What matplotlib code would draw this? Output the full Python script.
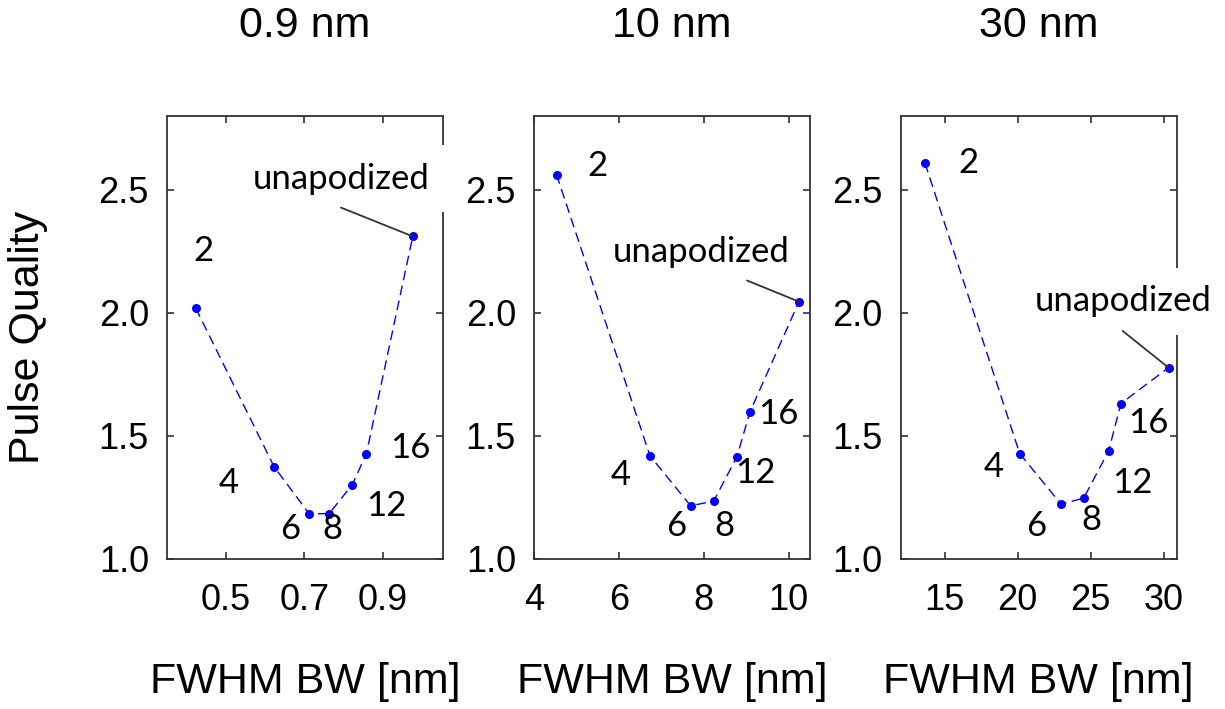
import matplotlib
matplotlib.use("Agg")
import matplotlib.pyplot as plt

# ---------------- data ----------------
panel_titles = ["0.9 nm", "10 nm", "30 nm"]
apod_labels = ["2", "4", "6", "8", "12", "16", "unapodized"]

bw_09 = [0.423, 0.623, 0.712, 0.763, 0.822, 0.858, 0.976]
pq_09 = [2.019, 1.374, 1.184, 1.184, 1.302, 1.428, 2.310]

bw_10 = [4.53, 6.73, 7.69, 8.23, 8.78, 9.08, 10.24]
pq_10 = [2.561, 1.419, 1.216, 1.235, 1.415, 1.595, 2.045]

bw_30 = [13.66, 20.15, 22.98, 24.53, 26.24, 27.08, 30.34]
pq_30 = [2.608, 1.428, 1.223, 1.247, 1.439, 1.631, 1.777]

xticks_09 = [0.5, 0.7, 0.9]
xticks_10 = [4, 6, 8, 10]
xticks_30 = [15, 20, 25, 30]
yticks = [1.0, 1.5, 2.0, 2.5]

xlims = [(0.35, 1.053), (4.0, 10.5), (12.0, 30.9)]
ylim = (1.0, 2.8)

# label positions (data coords) for the apodization labels
lab_pos_09 = [(0.442, 2.25), (0.506, 1.31), (0.663, 1.12), (0.772, 1.12),
              (0.908, 1.214), (0.97, 1.45), (0.793, 2.545)]
lab_pos_10 = [(5.50, 2.595), (6.04, 1.342), (7.36, 1.135), (8.49, 1.135),
              (9.21, 1.351), (9.76, 1.588), (7.93, 2.246)]
lab_pos_30 = [(16.62, 2.608), (18.37, 1.372), (21.29, 1.135), (25.03, 1.159),
              (27.83, 1.308), (28.97, 1.554), (27.26, 2.047)]
# start points of the leader lines to the unapodized point
leader_start = [(0.793, 2.427), (9.016, 2.131), (27.2, 1.926)]

# ---------------- figure ----------------
fig = plt.figure(figsize=(12.25, 7.09), dpi=100)
W, H = 1225.0, 709.0
ax_left_px = [167, 534, 900.7]
ax_w_px = 276
ax_top_px, ax_bot_px = 115.7, 559.0

tick_font = "Liberation Sans"
lab_font = "Lato"

panels = [
    (bw_09, pq_09, xticks_09, ["0.5", "0.7", "0.9"], lab_pos_09),
    (bw_10, pq_10, xticks_10, ["4", "6", "8", "10"], lab_pos_10),
    (bw_30, pq_30, xticks_30, ["15", "20", "25", "30"], lab_pos_30),
]

spine_col = "#333333"
for i, (xs, ys, xt, xtl, lpos) in enumerate(panels):
    ax = fig.add_axes([ax_left_px[i] / W, (H - ax_bot_px) / H,
                       ax_w_px / W, (ax_bot_px - ax_top_px) / H])
    ax.plot(xs, ys, color="#0000FF", lw=1.0, dashes=(7, 4),
            marker="o", markersize=6.5, markeredgewidth=0, zorder=4)
    ax.set_xlim(*xlims[i])
    ax.set_ylim(*ylim)
    ax.set_xticks(xt)
    ax.set_xticklabels(xtl, fontfamily=tick_font, fontsize=26)
    ax.set_yticks(yticks)
    ax.set_yticklabels([f"{v:.1f}" for v in yticks],
                       fontfamily=tick_font, fontsize=26)
    ax.tick_params(direction="in", length=5, width=1.2, color=spine_col,
                   top=True, right=True)
    ax.tick_params(axis="x", pad=17)
    ax.tick_params(axis="y", pad=13)
    for s in ax.spines.values():
        s.set_color(spine_col)
        s.set_linewidth(1.3)

    # apodization labels
    for lab, (lx, ly) in zip(apod_labels[:-1], lpos[:-1]):
        ax.text(lx, ly, lab, ha="center", va="center", fontsize=25,
                fontfamily=lab_font, color="black", zorder=5)
    ux, uy = lpos[-1]
    ax.text(ux, uy, apod_labels[-1], ha="center", va="center", fontsize=25,
            fontfamily=lab_font, color="black", zorder=6, clip_on=False,
            bbox=dict(boxstyle="square,pad=0.5", fc="white", ec="none"))
    ax.annotate("", xy=(xs[-1], ys[-1]), xytext=leader_start[i],
                arrowprops=dict(arrowstyle="-", color="#333333", lw=1.3,
                                shrinkA=0, shrinkB=0),
                zorder=7, annotation_clip=False)

    ax.text(0.5, 1.0 + (ax_top_px - 26) / (ax_bot_px - ax_top_px),
            panel_titles[i], transform=ax.transAxes, ha="center",
            va="center", fontsize=31, fontfamily=tick_font)
    ax.set_xlabel("FWHM BW [nm]", fontsize=31, fontfamily=tick_font,
                  va="center")
    ax.xaxis.set_label_coords(0.5, -(682 - ax_bot_px) / (ax_bot_px - ax_top_px))
    if i == 0:
        ax.set_ylabel("Pulse Quality", fontsize=31, fontfamily=tick_font,
                      va="center")
        ax.yaxis.set_label_coords((28 - ax_left_px[0]) / ax_w_px, 0.5)

fig.savefig("out.png", dpi=100)
